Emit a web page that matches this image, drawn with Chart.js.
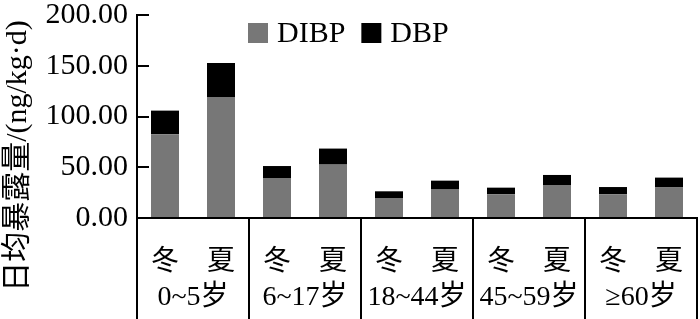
<!DOCTYPE html>
<html>
<head>
<meta charset="utf-8">
<script src="https://cdn.jsdelivr.net/npm/chart.js@4"></script>
<style>
  html, body { margin: 0; padding: 0; background: #fff; }
  #chart_box { width: 700px; height: 319px; }
</style>
</head>
<body>
<div id="chart_box"><canvas id="exposure_chart" width="700" height="319"></canvas></div>
<script>
// DATA
const season_labels = ['冬', '夏', '冬', '夏', '冬', '夏', '冬', '夏', '冬', '夏'];
const age_groups = ['0~5岁', '6~17岁', '18~44岁', '45~59岁', '≥60岁'];
const dibp_values = [82.5, 119.2, 39.4, 52.6, 19.7, 28.0, 23.3, 32.5, 23.3, 30.5];
const dbp_values = [23.3, 33.5, 11.8, 15.8, 6.6, 8.8, 6.6, 9.9, 7.2, 9.3];
const y_ticks = [0, 50, 100, 150, 200];
const y_title = '日均暴露量/(ng/kg·d)';

const FONT_FAMILY = "'Liberation Serif', 'Noto Sans CJK SC', serif";

// GROUP LINES, AGE LABELS, LEGEND AND Y TITLE
const extras_plugin = {
  id: 'extras',
  afterDraw(chart) {
    const ctx = chart.ctx;
    const x_scale = chart.scales.x;
    const area = chart.chartArea;
    ctx.save();

    // vertical separators under the axis
    ctx.strokeStyle = '#000';
    ctx.lineWidth = 2;
    for (let i = 0; i <= age_groups.length; i++) {
      const px = Math.round(x_scale.getPixelForValue(i * 2 - 0.5));
      ctx.beginPath();
      ctx.moveTo(px, area.bottom);
      ctx.lineTo(px, chart.height);
      ctx.stroke();
    }

    // age group labels
    ctx.fillStyle = '#000';
    ctx.font = '28px ' + FONT_FAMILY;
    ctx.textAlign = 'center';
    ctx.textBaseline = 'middle';
    age_groups.forEach((g, i) => {
      ctx.fillText(g, x_scale.getPixelForValue(i * 2 + 0.5), 298);
    });

    // legend
    ctx.font = '30px ' + FONT_FAMILY;
    ctx.textAlign = 'left';
    let lx = 248;
    chart.data.datasets.forEach(ds => {
      ctx.fillStyle = ds.backgroundColor;
      ctx.fillRect(lx, 23, 20, 20);
      ctx.fillStyle = '#000';
      ctx.fillText(ds.label, lx + 29, 34);
      lx += 29 + ctx.measureText(ds.label).width + 16;
    });

    // y title
    ctx.font = '30px ' + FONT_FAMILY;
    ctx.translate(18, 156);
    ctx.rotate(-Math.PI / 2);
    ctx.textAlign = 'center';
    ctx.fillText(y_title, 0, 0);
    ctx.restore();
  }
};

const ctx = document.getElementById('exposure_chart').getContext('2d');
const my_chart = new Chart(ctx, {
  type: 'bar',
  data: {
    labels: season_labels,
    datasets: [{
      label: 'DIBP',
      data: dibp_values,
      backgroundColor: '#777777',
      categoryPercentage: 0.5,
      barPercentage: 1
    }, {
      label: 'DBP',
      data: dbp_values,
      backgroundColor: '#000000',
      categoryPercentage: 0.5,
      barPercentage: 1
    }]
  },
  options: {
    responsive: false,
    animation: false,
    devicePixelRatio: 1,
    layout: { padding: { top: 15, right: 3, left: 0, bottom: 0 } },
    plugins: {
      legend: { display: false },
      tooltip: { enabled: false }
    },
    scales: {
      x: {
        stacked: true,
        grid: { display: false },
        border: { display: true, color: '#000', width: 2 },
        ticks: {
          color: '#000',
          padding: 20,
          maxRotation: 0,
          font: { family: FONT_FAMILY, size: 28 }
        },
        afterFit(scale) {
          scale.height = 101;
          scale.paddingLeft = 0;
          scale.paddingRight = 0;
        }
      },
      y: {
        stacked: true,
        min: 0,
        max: 200,
        afterBuildTicks(scale) {
          scale.ticks = y_ticks.map(v => ({ value: v }));
        },
        grid: {
          drawOnChartArea: false,
          drawTicks: true,
          tickLength: -12,
          color: '#000',
          lineWidth: 2
        },
        border: { display: true, color: '#000', width: 2 },
        ticks: {
          color: '#000',
          padding: 21,
          font: { family: FONT_FAMILY, size: 30 },
          callback: v => v.toFixed(2)
        },
        afterFit(scale) {
          scale.width = 137;
          scale.paddingTop = 0;
          scale.paddingBottom = 0;
        }
      }
    }
  },
  plugins: [extras_plugin]
});
</script>
</body>
</html>
